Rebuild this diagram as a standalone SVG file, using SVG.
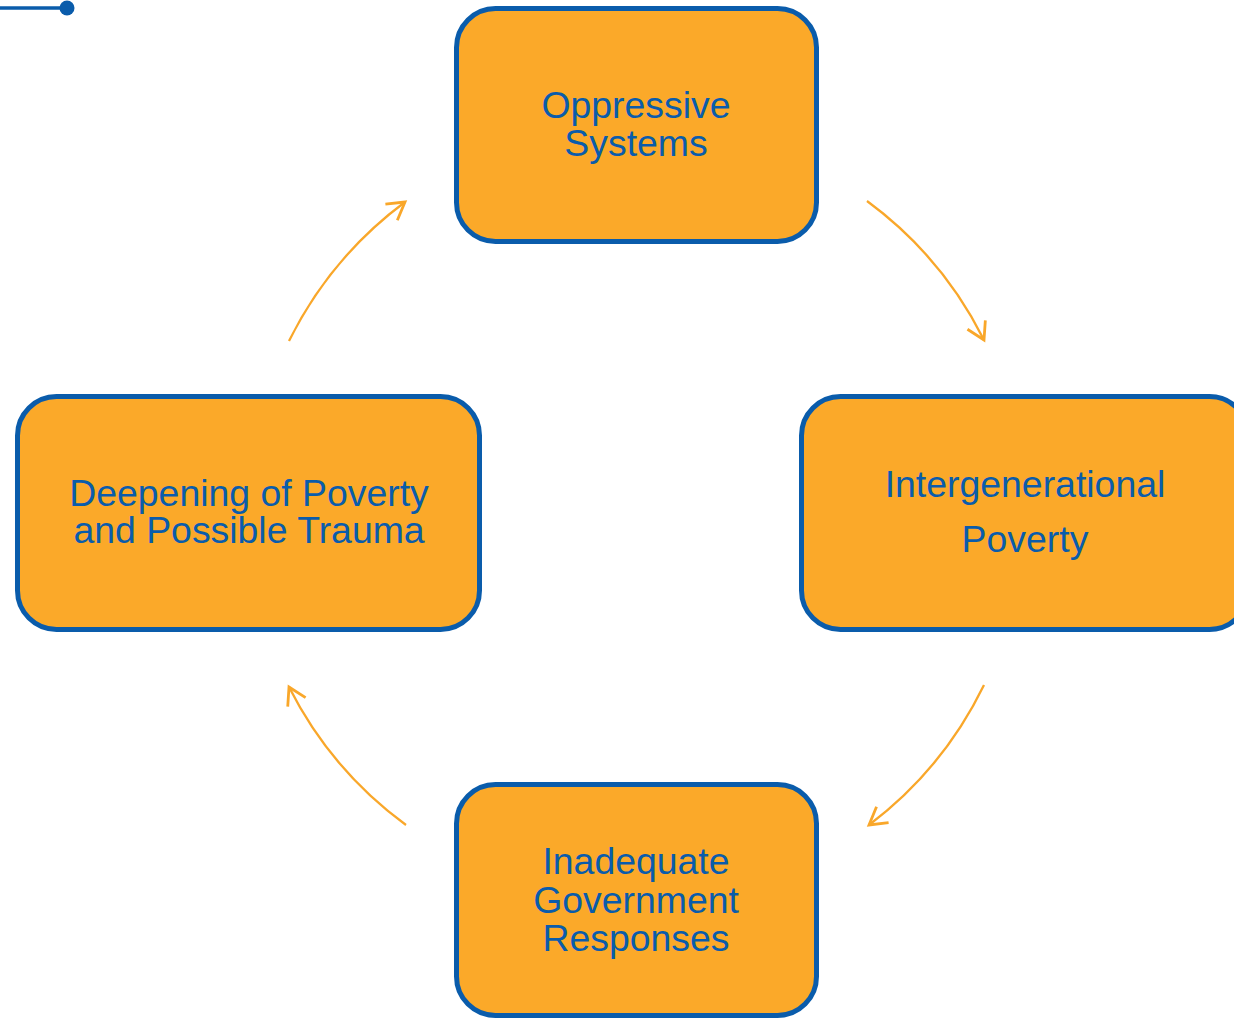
<svg xmlns="http://www.w3.org/2000/svg" width="1234" height="1019" viewBox="0 0 1234 1019">
<style>
.box{fill:#FBA929;stroke:#0A5CAB;stroke-width:5}
.lbl{font-family:"Liberation Sans",Arial,sans-serif;font-size:37.4px;fill:#0A5CAB;text-anchor:middle}
.arc{fill:none;stroke:#F9A72A;stroke-width:2.3}
</style>
<defs>
<marker id="ah" markerUnits="userSpaceOnUse" markerWidth="34" markerHeight="34" viewBox="-22 -17 34 34" refX="0" refY="0" orient="auto">
<path d="M-17,-10 L0,0 L-17,10" fill="none" stroke="#F9A72A" stroke-width="2.8"/>
</marker>
</defs>
<rect width="1234" height="1019" fill="#ffffff"/>
<g id="legend-line">
<line x1="0" y1="8" x2="67" y2="8" stroke="#0A5CAB" stroke-width="3.5"/>
<circle cx="67" cy="8" r="7.5" fill="#0A5CAB"/>
</g>
<g id="connectors">
<path class="arc" d="M867,201 A388,388 0 0 1 984,340" marker-end="url(#ah)"/>
<path class="arc" d="M984,685 A388,388 0 0 1 869,825" marker-end="url(#ah)"/>
<path class="arc" d="M406,825 A388,388 0 0 1 289,687" marker-end="url(#ah)"/>
<path class="arc" d="M289,341 A388,388 0 0 1 405,202" marker-end="url(#ah)"/>
</g>
<g id="node-oppressive">
<rect class="box" x="456.5" y="8.5" width="360" height="233" rx="39"/>
<text class="lbl" x="636" y="118">Oppressive</text>
<text class="lbl" x="636" y="156">Systems</text>
</g>
<g id="node-intergenerational">
<rect class="box" x="801.5" y="396.5" width="447" height="233" rx="39"/>
<text class="lbl" x="1025" y="497">Intergenerational</text>
<text class="lbl" x="1025" y="552">Poverty</text>
</g>
<g id="node-inadequate">
<rect class="box" x="456.5" y="784.5" width="360" height="231" rx="39"/>
<text class="lbl" x="636" y="874">Inadequate</text>
<text class="lbl" x="636" y="913">Government</text>
<text class="lbl" x="636" y="951">Responses</text>
</g>
<g id="node-deepening">
<rect class="box" x="17.5" y="396.5" width="462" height="233" rx="39"/>
<text class="lbl" x="249" y="506">Deepening of Poverty</text>
<text class="lbl" x="249" y="543">and Possible Trauma</text>
</g>
</svg>
